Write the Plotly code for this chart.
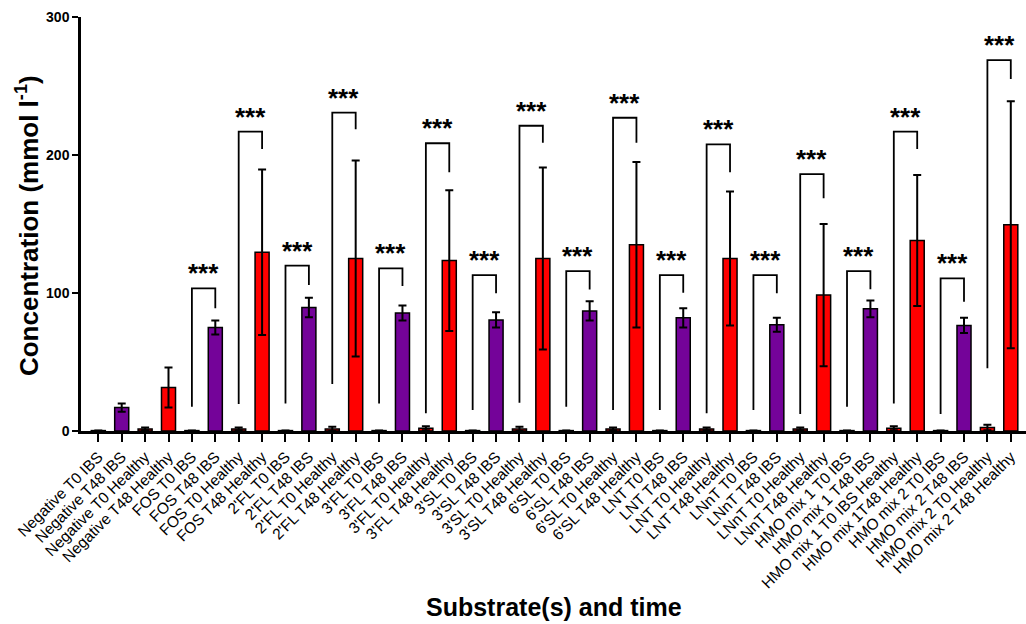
import plotly.graph_objects as go

# Substrates and sampling conditions (IBS / Healthy donors, T0 / T48)
categories = [
    "Negative T0 IBS", "Negative T48 IBS", "Negative T0 Healthy", "Negative T48 Healthy",
    "FOS T0 IBS", "FOS T48 IBS", "FOS T0 Healthy", "FOS T48 Healthy",
    "2'FL T0 IBS", "2'FL T48 IBS", "2'FL T0 Healthy", "2'FL T48 Healthy",
    "3'FL T0 IBS", "3'FL T48 IBS", "3'FL T0 Healthy", "3'FL T48 Healthy",
    "3'SL T0 IBS", "3'SL T48 IBS", "3'SL T0 Healthy", "3'SL T48 Healthy",
    "6'SL T0 IBS", "6'SL T48 IBS", "6'SL T0 Healthy", "6'SL T48 Healthy",
    "LNT T0 IBS", "LNT T48 IBS", "LNT T0 Healthy", "LNT T48 Healthy",
    "LNnT T0 IBS", "LNnT T48 IBS", "LNnT T0 Healthy", "LNnT T48 Healthy",
    "HMO mix 1 T0 IBS", "HMO mix 1 T48 IBS", "HMO mix 1 T0 IBS Healthy", "HMO mix 1T48 Healthy",
    "HMO mix 2 T0 IBS", "HMO mix 2 T48 IBS", "HMO mix 2 T0 Healthy", "HMO mix 2 T48 Healthy",
]

# Mean concentration (mmol l-1) per condition
concentration = [
    0.3, 17.0, 1.5, 31.5,
    0.3, 75.0, 1.5, 129.5,
    0.3, 89.5, 1.5, 125.0,
    0.3, 85.5, 2.0, 123.5,
    0.3, 80.5, 1.5, 125.0,
    0.3, 87.0, 1.5, 135.0,
    0.3, 82.0, 1.5, 125.0,
    0.3, 77.0, 1.5, 98.5,
    0.3, 88.5, 2.0, 138.0,
    0.3, 76.5, 2.5, 149.5,
]

# Standard deviation per condition
error = [
    0.0, 3.0, 1.0, 14.5,
    0.0, 5.0, 1.0, 60.0,
    0.0, 7.0, 1.5, 71.0,
    0.0, 5.5, 1.5, 51.0,
    0.0, 5.5, 1.5, 66.0,
    0.0, 7.0, 1.0, 60.0,
    0.0, 7.0, 1.0, 48.5,
    0.0, 5.0, 1.0, 51.5,
    0.0, 6.0, 1.5, 47.5,
    0.0, 5.5, 2.0, 89.5,
]

# Significance brackets: T0 vs T48 within each substrate/donor group (index of T0 bar)
bracket_start = [4, 6, 8, 10, 12, 14, 16, 18, 20, 22, 24, 26, 28, 30, 32, 34, 36, 38]
bracket_top = [103.4, 216.9, 119.8, 230.7, 117.9, 208.5, 113.0, 221.2, 115.9, 227.0,
               113.0, 207.7, 113.0, 186.2, 115.9, 216.9, 110.6, 268.8]
bracket_left_end = [17.6, 19.6, 20.0, 34.0, 20.0, 12.8, 15.2, 20.5, 17.6, 15.2,
                    15.2, 12.8, 15.2, 12.3, 17.6, 20.0, 12.3, 45.4]
bracket_right_end = [88.9, 204.3, 105.8, 218.6, 105.1, 187.5, 99.8, 208.9, 102.5, 208.9,
                     100.2, 187.5, 99.8, 168.6, 102.7, 204.3, 93.7, 255.1]
significance = ["***"] * len(bracket_start)

PURPLE = "#740399"
RED = "#ff0000"
FONT = "Liberation Sans, Arial, sans-serif"

x_idx = list(range(len(categories)))
colors = [RED if "Healthy" in c else PURPLE for c in categories]

fig = go.Figure()
fig.add_trace(go.Bar(
    x=x_idx,
    y=concentration,
    width=0.6,
    marker=dict(color=colors, line=dict(color="black", width=1.5)),
    error_y=dict(type="data", array=error, visible=True,
                 color="black", thickness=2, width=4),
    showlegend=False,
    hoverinfo="skip",
))

# Bracket lines
bx, by = [], []
for s, top, le, re in zip(bracket_start, bracket_top, bracket_left_end, bracket_right_end):
    bx += [s, s, s + 1, s + 1, None]
    by += [le, top, top, re, None]
fig.add_trace(go.Scatter(
    x=bx, y=by, mode="lines",
    line=dict(color="black", width=1.8),
    showlegend=False, hoverinfo="skip",
))

annotations = []
for s, top, txt in zip(bracket_start, bracket_top, significance):
    annotations.append(dict(
        x=s + 0.5, y=top, xref="x", yref="y", text="<b>" + txt + "</b>", showarrow=False,
        yanchor="bottom", yshift=-2,
        font=dict(family=FONT, size=26, color="black"),
    ))

annotations.append(dict(
    text="<b>Concentration (mmol l<sup>-1</sup>)</b>",
    xref="paper", yref="paper", x=0, y=0.495, xshift=-54,
    xanchor="center", yanchor="middle", textangle=-90, showarrow=False,
    font=dict(family=FONT, size=26, color="black"),
))
annotations.append(dict(
    text="<b>Substrate(s) and time</b>",
    xref="paper", yref="paper", x=0.5, y=0, yshift=-176,
    xanchor="center", yanchor="middle", showarrow=False,
    font=dict(family=FONT, size=25, color="black"),
))

fig.update_layout(
    width=1026, height=624,
    margin=dict(l=81, r=0, t=17, b=193),
    plot_bgcolor="white", paper_bgcolor="white",
    bargap=0.4,
    annotations=annotations,
    xaxis=dict(
        tickmode="array", tickvals=x_idx, ticktext=categories,
        tickangle=-45, range=[-0.74, 39.65],
        showline=True, linecolor="black", linewidth=2.5,
        ticks="outside", ticklen=8, tickwidth=2, tickcolor="black",
        showgrid=False, zeroline=False,
        tickfont=dict(family=FONT, size=15.5, color="black"),
    ),
    yaxis=dict(
        range=[0, 300], tickvals=[0, 100, 200, 300],
        ticktext=["<b>0</b>", "<b>100</b>", "<b>200</b>", "<b>300</b>"],
        showline=True, linecolor="black", linewidth=2.5,
        ticks="outside", ticklen=6, tickwidth=2, tickcolor="black",
        showgrid=False, zeroline=False,
        tickfont=dict(family=FONT, size=14, color="black"),
    ),
)

fig.write_html("out.html")
